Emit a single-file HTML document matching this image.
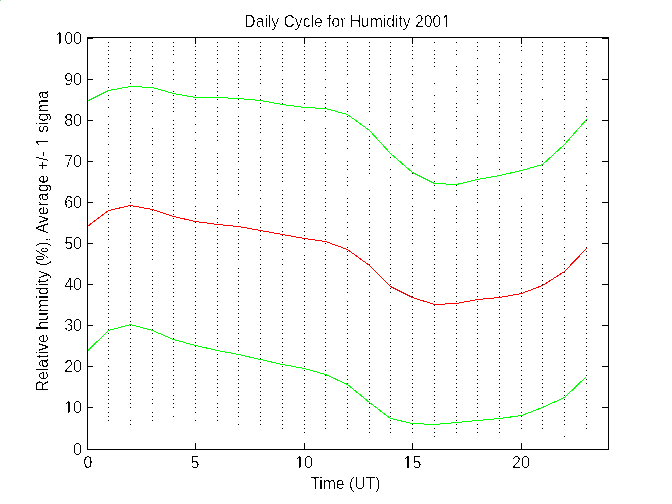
<!DOCTYPE html>
<html><head><meta charset="utf-8"><style>
html,body{margin:0;padding:0;background:#fff;}
svg{display:block;}
text{font-family:"Liberation Sans",Arial,sans-serif;font-size:16px;fill:#000;}
.n{font-family:"NanumGothic","Liberation Sans",sans-serif;stroke:none;}
</style></head><body>
<svg width="672" height="504" viewBox="0 0 672 504">
<rect width="672" height="504" fill="#fff"/>
<rect width="1" height="1" fill="#9ccc9c"/>
<path d="M108 420h1v1h-1zM108 416h1v1h-1zM108 412h1v1h-1zM108 407h1v1h-1zM108 403h1v1h-1zM108 399h1v1h-1zM108 395h1v1h-1zM108 391h1v1h-1zM108 387h1v1h-1zM108 383h1v1h-1zM108 379h1v1h-1zM108 375h1v1h-1zM108 370h1v1h-1zM108 366h1v1h-1zM108 358h1v1h-1zM108 354h1v1h-1zM108 350h1v1h-1zM108 346h1v1h-1zM108 342h1v1h-1zM108 338h1v1h-1zM108 333h1v1h-1zM108 329h1v1h-1zM108 325h1v1h-1zM108 321h1v1h-1zM108 317h1v1h-1zM108 313h1v1h-1zM108 309h1v1h-1zM108 305h1v1h-1zM108 301h1v1h-1zM108 296h1v1h-1zM108 292h1v1h-1zM108 288h1v1h-1zM108 284h1v1h-1zM108 280h1v1h-1zM108 276h1v1h-1zM108 272h1v1h-1zM108 268h1v1h-1zM108 264h1v1h-1zM108 259h1v1h-1zM108 255h1v1h-1zM108 251h1v1h-1zM108 247h1v1h-1zM108 239h1v1h-1zM108 235h1v1h-1zM108 231h1v1h-1zM108 227h1v1h-1zM108 222h1v1h-1zM108 218h1v1h-1zM108 214h1v1h-1zM108 210h1v1h-1zM108 206h1v1h-1zM108 202h1v1h-1zM108 198h1v1h-1zM108 194h1v1h-1zM108 185h1v1h-1zM108 181h1v1h-1zM108 177h1v1h-1zM108 173h1v1h-1zM108 165h1v1h-1zM108 161h1v1h-1zM108 157h1v1h-1zM108 153h1v1h-1zM108 144h1v1h-1zM108 136h1v1h-1zM108 132h1v1h-1zM108 128h1v1h-1zM108 124h1v1h-1zM108 116h1v1h-1zM108 107h1v1h-1zM108 99h1v1h-1zM108 95h1v1h-1zM108 87h1v1h-1zM108 79h1v1h-1zM108 74h1v1h-1zM108 70h1v1h-1zM108 66h1v1h-1zM108 62h1v1h-1zM108 58h1v1h-1zM108 54h1v1h-1zM108 50h1v1h-1zM108 46h1v1h-1zM108 42h1v1h-1zM130 424h1v1h-1zM130 420h1v1h-1zM130 407h1v1h-1zM130 403h1v1h-1zM130 399h1v1h-1zM130 395h1v1h-1zM130 391h1v1h-1zM130 387h1v1h-1zM130 383h1v1h-1zM130 379h1v1h-1zM130 375h1v1h-1zM130 370h1v1h-1zM130 366h1v1h-1zM130 362h1v1h-1zM130 358h1v1h-1zM130 354h1v1h-1zM130 350h1v1h-1zM130 346h1v1h-1zM130 342h1v1h-1zM130 338h1v1h-1zM130 333h1v1h-1zM130 329h1v1h-1zM130 325h1v1h-1zM130 321h1v1h-1zM130 317h1v1h-1zM130 313h1v1h-1zM130 309h1v1h-1zM130 305h1v1h-1zM130 301h1v1h-1zM130 296h1v1h-1zM130 292h1v1h-1zM130 288h1v1h-1zM130 284h1v1h-1zM130 280h1v1h-1zM130 276h1v1h-1zM130 272h1v1h-1zM130 268h1v1h-1zM130 264h1v1h-1zM130 259h1v1h-1zM130 255h1v1h-1zM130 251h1v1h-1zM130 247h1v1h-1zM130 243h1v1h-1zM130 239h1v1h-1zM130 235h1v1h-1zM130 231h1v1h-1zM130 227h1v1h-1zM130 222h1v1h-1zM130 218h1v1h-1zM130 214h1v1h-1zM130 210h1v1h-1zM130 206h1v1h-1zM130 202h1v1h-1zM130 198h1v1h-1zM130 190h1v1h-1zM130 185h1v1h-1zM130 181h1v1h-1zM130 173h1v1h-1zM130 169h1v1h-1zM130 165h1v1h-1zM130 161h1v1h-1zM130 157h1v1h-1zM130 153h1v1h-1zM130 148h1v1h-1zM130 144h1v1h-1zM130 140h1v1h-1zM130 136h1v1h-1zM130 132h1v1h-1zM130 128h1v1h-1zM130 124h1v1h-1zM130 120h1v1h-1zM130 116h1v1h-1zM130 111h1v1h-1zM130 107h1v1h-1zM130 103h1v1h-1zM130 99h1v1h-1zM130 91h1v1h-1zM130 83h1v1h-1zM130 79h1v1h-1zM130 74h1v1h-1zM130 70h1v1h-1zM130 66h1v1h-1zM130 62h1v1h-1zM130 58h1v1h-1zM130 50h1v1h-1zM130 46h1v1h-1zM130 42h1v1h-1zM152 420h1v1h-1zM152 416h1v1h-1zM152 412h1v1h-1zM152 403h1v1h-1zM152 399h1v1h-1zM152 391h1v1h-1zM152 387h1v1h-1zM152 383h1v1h-1zM152 379h1v1h-1zM152 375h1v1h-1zM152 370h1v1h-1zM152 366h1v1h-1zM152 362h1v1h-1zM152 358h1v1h-1zM152 354h1v1h-1zM152 350h1v1h-1zM152 346h1v1h-1zM152 342h1v1h-1zM152 338h1v1h-1zM152 333h1v1h-1zM152 329h1v1h-1zM152 325h1v1h-1zM152 321h1v1h-1zM152 317h1v1h-1zM152 313h1v1h-1zM152 309h1v1h-1zM152 305h1v1h-1zM152 301h1v1h-1zM152 296h1v1h-1zM152 292h1v1h-1zM152 288h1v1h-1zM152 284h1v1h-1zM152 280h1v1h-1zM152 276h1v1h-1zM152 272h1v1h-1zM152 259h1v1h-1zM152 255h1v1h-1zM152 251h1v1h-1zM152 247h1v1h-1zM152 243h1v1h-1zM152 239h1v1h-1zM152 235h1v1h-1zM152 231h1v1h-1zM152 227h1v1h-1zM152 222h1v1h-1zM152 218h1v1h-1zM152 214h1v1h-1zM152 210h1v1h-1zM152 206h1v1h-1zM152 202h1v1h-1zM152 198h1v1h-1zM152 194h1v1h-1zM152 190h1v1h-1zM152 185h1v1h-1zM152 181h1v1h-1zM152 177h1v1h-1zM152 173h1v1h-1zM152 165h1v1h-1zM152 161h1v1h-1zM152 157h1v1h-1zM152 153h1v1h-1zM152 144h1v1h-1zM152 140h1v1h-1zM152 136h1v1h-1zM152 132h1v1h-1zM152 128h1v1h-1zM152 116h1v1h-1zM152 111h1v1h-1zM152 103h1v1h-1zM152 95h1v1h-1zM152 91h1v1h-1zM152 83h1v1h-1zM152 79h1v1h-1zM152 74h1v1h-1zM152 70h1v1h-1zM152 66h1v1h-1zM152 58h1v1h-1zM152 54h1v1h-1zM152 50h1v1h-1zM152 46h1v1h-1zM152 42h1v1h-1zM173 416h1v1h-1zM173 407h1v1h-1zM173 403h1v1h-1zM173 399h1v1h-1zM173 395h1v1h-1zM173 387h1v1h-1zM173 383h1v1h-1zM173 379h1v1h-1zM173 375h1v1h-1zM173 370h1v1h-1zM173 366h1v1h-1zM173 362h1v1h-1zM173 358h1v1h-1zM173 354h1v1h-1zM173 350h1v1h-1zM173 346h1v1h-1zM173 342h1v1h-1zM173 338h1v1h-1zM173 333h1v1h-1zM173 329h1v1h-1zM173 325h1v1h-1zM173 321h1v1h-1zM173 317h1v1h-1zM173 313h1v1h-1zM173 309h1v1h-1zM173 305h1v1h-1zM173 301h1v1h-1zM173 296h1v1h-1zM173 292h1v1h-1zM173 288h1v1h-1zM173 284h1v1h-1zM173 280h1v1h-1zM173 276h1v1h-1zM173 272h1v1h-1zM173 268h1v1h-1zM173 264h1v1h-1zM173 259h1v1h-1zM173 255h1v1h-1zM173 251h1v1h-1zM173 247h1v1h-1zM173 243h1v1h-1zM173 239h1v1h-1zM173 235h1v1h-1zM173 231h1v1h-1zM173 227h1v1h-1zM173 222h1v1h-1zM173 218h1v1h-1zM173 214h1v1h-1zM173 210h1v1h-1zM173 206h1v1h-1zM173 202h1v1h-1zM173 198h1v1h-1zM173 194h1v1h-1zM173 190h1v1h-1zM173 185h1v1h-1zM173 181h1v1h-1zM173 177h1v1h-1zM173 173h1v1h-1zM173 169h1v1h-1zM173 165h1v1h-1zM173 161h1v1h-1zM173 157h1v1h-1zM173 153h1v1h-1zM173 148h1v1h-1zM173 144h1v1h-1zM173 140h1v1h-1zM173 136h1v1h-1zM173 132h1v1h-1zM173 128h1v1h-1zM173 124h1v1h-1zM173 120h1v1h-1zM173 111h1v1h-1zM173 107h1v1h-1zM173 103h1v1h-1zM173 99h1v1h-1zM173 95h1v1h-1zM173 91h1v1h-1zM173 79h1v1h-1zM173 74h1v1h-1zM173 70h1v1h-1zM173 62h1v1h-1zM173 54h1v1h-1zM173 50h1v1h-1zM173 46h1v1h-1zM173 42h1v1h-1zM195 420h1v1h-1zM195 412h1v1h-1zM195 407h1v1h-1zM195 403h1v1h-1zM195 399h1v1h-1zM195 395h1v1h-1zM195 391h1v1h-1zM195 387h1v1h-1zM195 383h1v1h-1zM195 379h1v1h-1zM195 375h1v1h-1zM195 370h1v1h-1zM195 366h1v1h-1zM195 362h1v1h-1zM195 358h1v1h-1zM195 354h1v1h-1zM195 350h1v1h-1zM195 346h1v1h-1zM195 342h1v1h-1zM195 338h1v1h-1zM195 333h1v1h-1zM195 329h1v1h-1zM195 325h1v1h-1zM195 321h1v1h-1zM195 317h1v1h-1zM195 313h1v1h-1zM195 309h1v1h-1zM195 305h1v1h-1zM195 301h1v1h-1zM195 296h1v1h-1zM195 292h1v1h-1zM195 288h1v1h-1zM195 284h1v1h-1zM195 280h1v1h-1zM195 276h1v1h-1zM195 272h1v1h-1zM195 268h1v1h-1zM195 264h1v1h-1zM195 259h1v1h-1zM195 255h1v1h-1zM195 251h1v1h-1zM195 247h1v1h-1zM195 243h1v1h-1zM195 239h1v1h-1zM195 235h1v1h-1zM195 231h1v1h-1zM195 227h1v1h-1zM195 222h1v1h-1zM195 218h1v1h-1zM195 214h1v1h-1zM195 210h1v1h-1zM195 206h1v1h-1zM195 198h1v1h-1zM195 194h1v1h-1zM195 190h1v1h-1zM195 185h1v1h-1zM195 181h1v1h-1zM195 177h1v1h-1zM195 173h1v1h-1zM195 169h1v1h-1zM195 165h1v1h-1zM195 161h1v1h-1zM195 157h1v1h-1zM195 153h1v1h-1zM195 148h1v1h-1zM195 140h1v1h-1zM195 132h1v1h-1zM195 124h1v1h-1zM195 116h1v1h-1zM195 111h1v1h-1zM195 107h1v1h-1zM195 103h1v1h-1zM195 99h1v1h-1zM195 95h1v1h-1zM195 87h1v1h-1zM195 83h1v1h-1zM195 79h1v1h-1zM195 74h1v1h-1zM195 70h1v1h-1zM195 66h1v1h-1zM195 62h1v1h-1zM195 58h1v1h-1zM195 54h1v1h-1zM195 50h1v1h-1zM195 46h1v1h-1zM195 42h1v1h-1zM217 420h1v1h-1zM217 416h1v1h-1zM217 412h1v1h-1zM217 407h1v1h-1zM217 403h1v1h-1zM217 395h1v1h-1zM217 391h1v1h-1zM217 387h1v1h-1zM217 383h1v1h-1zM217 379h1v1h-1zM217 375h1v1h-1zM217 370h1v1h-1zM217 366h1v1h-1zM217 362h1v1h-1zM217 358h1v1h-1zM217 354h1v1h-1zM217 350h1v1h-1zM217 346h1v1h-1zM217 342h1v1h-1zM217 338h1v1h-1zM217 333h1v1h-1zM217 329h1v1h-1zM217 325h1v1h-1zM217 321h1v1h-1zM217 317h1v1h-1zM217 313h1v1h-1zM217 309h1v1h-1zM217 305h1v1h-1zM217 301h1v1h-1zM217 296h1v1h-1zM217 292h1v1h-1zM217 288h1v1h-1zM217 284h1v1h-1zM217 280h1v1h-1zM217 276h1v1h-1zM217 272h1v1h-1zM217 268h1v1h-1zM217 264h1v1h-1zM217 259h1v1h-1zM217 255h1v1h-1zM217 251h1v1h-1zM217 247h1v1h-1zM217 243h1v1h-1zM217 239h1v1h-1zM217 235h1v1h-1zM217 231h1v1h-1zM217 227h1v1h-1zM217 222h1v1h-1zM217 218h1v1h-1zM217 210h1v1h-1zM217 206h1v1h-1zM217 198h1v1h-1zM217 194h1v1h-1zM217 190h1v1h-1zM217 185h1v1h-1zM217 181h1v1h-1zM217 173h1v1h-1zM217 169h1v1h-1zM217 165h1v1h-1zM217 161h1v1h-1zM217 157h1v1h-1zM217 153h1v1h-1zM217 140h1v1h-1zM217 136h1v1h-1zM217 132h1v1h-1zM217 124h1v1h-1zM217 120h1v1h-1zM217 116h1v1h-1zM217 111h1v1h-1zM217 107h1v1h-1zM217 99h1v1h-1zM217 95h1v1h-1zM217 91h1v1h-1zM217 87h1v1h-1zM217 83h1v1h-1zM217 79h1v1h-1zM217 74h1v1h-1zM217 70h1v1h-1zM217 62h1v1h-1zM217 58h1v1h-1zM217 54h1v1h-1zM217 50h1v1h-1zM217 46h1v1h-1zM217 42h1v1h-1zM238 424h1v1h-1zM238 416h1v1h-1zM238 412h1v1h-1zM238 407h1v1h-1zM238 403h1v1h-1zM238 399h1v1h-1zM238 395h1v1h-1zM238 391h1v1h-1zM238 387h1v1h-1zM238 383h1v1h-1zM238 379h1v1h-1zM238 375h1v1h-1zM238 370h1v1h-1zM238 366h1v1h-1zM238 362h1v1h-1zM238 358h1v1h-1zM238 354h1v1h-1zM238 350h1v1h-1zM238 346h1v1h-1zM238 342h1v1h-1zM238 338h1v1h-1zM238 333h1v1h-1zM238 329h1v1h-1zM238 325h1v1h-1zM238 321h1v1h-1zM238 317h1v1h-1zM238 313h1v1h-1zM238 309h1v1h-1zM238 305h1v1h-1zM238 301h1v1h-1zM238 296h1v1h-1zM238 292h1v1h-1zM238 288h1v1h-1zM238 284h1v1h-1zM238 280h1v1h-1zM238 276h1v1h-1zM238 272h1v1h-1zM238 268h1v1h-1zM238 259h1v1h-1zM238 255h1v1h-1zM238 251h1v1h-1zM238 247h1v1h-1zM238 243h1v1h-1zM238 239h1v1h-1zM238 235h1v1h-1zM238 231h1v1h-1zM238 222h1v1h-1zM238 218h1v1h-1zM238 214h1v1h-1zM238 210h1v1h-1zM238 194h1v1h-1zM238 190h1v1h-1zM238 185h1v1h-1zM238 181h1v1h-1zM238 177h1v1h-1zM238 173h1v1h-1zM238 169h1v1h-1zM238 161h1v1h-1zM238 157h1v1h-1zM238 153h1v1h-1zM238 148h1v1h-1zM238 144h1v1h-1zM238 140h1v1h-1zM238 136h1v1h-1zM238 132h1v1h-1zM238 128h1v1h-1zM238 124h1v1h-1zM238 120h1v1h-1zM238 116h1v1h-1zM238 107h1v1h-1zM238 103h1v1h-1zM238 99h1v1h-1zM238 95h1v1h-1zM238 87h1v1h-1zM238 83h1v1h-1zM238 79h1v1h-1zM238 74h1v1h-1zM238 70h1v1h-1zM238 66h1v1h-1zM238 62h1v1h-1zM238 58h1v1h-1zM238 54h1v1h-1zM238 50h1v1h-1zM238 46h1v1h-1zM238 42h1v1h-1zM260 424h1v1h-1zM260 420h1v1h-1zM260 416h1v1h-1zM260 412h1v1h-1zM260 407h1v1h-1zM260 403h1v1h-1zM260 399h1v1h-1zM260 395h1v1h-1zM260 391h1v1h-1zM260 387h1v1h-1zM260 383h1v1h-1zM260 379h1v1h-1zM260 375h1v1h-1zM260 370h1v1h-1zM260 366h1v1h-1zM260 362h1v1h-1zM260 358h1v1h-1zM260 354h1v1h-1zM260 350h1v1h-1zM260 346h1v1h-1zM260 342h1v1h-1zM260 338h1v1h-1zM260 333h1v1h-1zM260 329h1v1h-1zM260 325h1v1h-1zM260 321h1v1h-1zM260 317h1v1h-1zM260 313h1v1h-1zM260 309h1v1h-1zM260 305h1v1h-1zM260 301h1v1h-1zM260 296h1v1h-1zM260 292h1v1h-1zM260 288h1v1h-1zM260 284h1v1h-1zM260 280h1v1h-1zM260 276h1v1h-1zM260 272h1v1h-1zM260 268h1v1h-1zM260 264h1v1h-1zM260 259h1v1h-1zM260 255h1v1h-1zM260 251h1v1h-1zM260 247h1v1h-1zM260 239h1v1h-1zM260 235h1v1h-1zM260 231h1v1h-1zM260 227h1v1h-1zM260 222h1v1h-1zM260 218h1v1h-1zM260 214h1v1h-1zM260 210h1v1h-1zM260 206h1v1h-1zM260 198h1v1h-1zM260 190h1v1h-1zM260 185h1v1h-1zM260 181h1v1h-1zM260 177h1v1h-1zM260 173h1v1h-1zM260 169h1v1h-1zM260 165h1v1h-1zM260 161h1v1h-1zM260 157h1v1h-1zM260 148h1v1h-1zM260 144h1v1h-1zM260 140h1v1h-1zM260 132h1v1h-1zM260 128h1v1h-1zM260 124h1v1h-1zM260 120h1v1h-1zM260 116h1v1h-1zM260 107h1v1h-1zM260 103h1v1h-1zM260 99h1v1h-1zM260 95h1v1h-1zM260 83h1v1h-1zM260 79h1v1h-1zM260 74h1v1h-1zM260 70h1v1h-1zM260 66h1v1h-1zM260 58h1v1h-1zM260 54h1v1h-1zM260 50h1v1h-1zM260 46h1v1h-1zM260 42h1v1h-1zM282 428h1v1h-1zM282 424h1v1h-1zM282 420h1v1h-1zM282 416h1v1h-1zM282 412h1v1h-1zM282 407h1v1h-1zM282 403h1v1h-1zM282 399h1v1h-1zM282 395h1v1h-1zM282 391h1v1h-1zM282 387h1v1h-1zM282 383h1v1h-1zM282 379h1v1h-1zM282 375h1v1h-1zM282 370h1v1h-1zM282 366h1v1h-1zM282 362h1v1h-1zM282 358h1v1h-1zM282 354h1v1h-1zM282 350h1v1h-1zM282 346h1v1h-1zM282 342h1v1h-1zM282 338h1v1h-1zM282 333h1v1h-1zM282 329h1v1h-1zM282 325h1v1h-1zM282 321h1v1h-1zM282 317h1v1h-1zM282 313h1v1h-1zM282 309h1v1h-1zM282 305h1v1h-1zM282 301h1v1h-1zM282 296h1v1h-1zM282 292h1v1h-1zM282 288h1v1h-1zM282 284h1v1h-1zM282 280h1v1h-1zM282 276h1v1h-1zM282 272h1v1h-1zM282 264h1v1h-1zM282 259h1v1h-1zM282 251h1v1h-1zM282 247h1v1h-1zM282 243h1v1h-1zM282 239h1v1h-1zM282 235h1v1h-1zM282 231h1v1h-1zM282 227h1v1h-1zM282 222h1v1h-1zM282 218h1v1h-1zM282 214h1v1h-1zM282 210h1v1h-1zM282 206h1v1h-1zM282 202h1v1h-1zM282 198h1v1h-1zM282 194h1v1h-1zM282 190h1v1h-1zM282 181h1v1h-1zM282 177h1v1h-1zM282 173h1v1h-1zM282 169h1v1h-1zM282 165h1v1h-1zM282 161h1v1h-1zM282 157h1v1h-1zM282 153h1v1h-1zM282 148h1v1h-1zM282 144h1v1h-1zM282 140h1v1h-1zM282 136h1v1h-1zM282 132h1v1h-1zM282 128h1v1h-1zM282 124h1v1h-1zM282 116h1v1h-1zM282 111h1v1h-1zM282 103h1v1h-1zM282 99h1v1h-1zM282 95h1v1h-1zM282 91h1v1h-1zM282 87h1v1h-1zM282 83h1v1h-1zM282 79h1v1h-1zM282 70h1v1h-1zM282 66h1v1h-1zM282 62h1v1h-1zM282 58h1v1h-1zM282 54h1v1h-1zM282 50h1v1h-1zM282 46h1v1h-1zM282 42h1v1h-1zM304 432h1v1h-1zM304 428h1v1h-1zM304 424h1v1h-1zM304 420h1v1h-1zM304 416h1v1h-1zM304 412h1v1h-1zM304 407h1v1h-1zM304 403h1v1h-1zM304 399h1v1h-1zM304 395h1v1h-1zM304 391h1v1h-1zM304 387h1v1h-1zM304 383h1v1h-1zM304 379h1v1h-1zM304 375h1v1h-1zM304 370h1v1h-1zM304 366h1v1h-1zM304 362h1v1h-1zM304 358h1v1h-1zM304 354h1v1h-1zM304 350h1v1h-1zM304 346h1v1h-1zM304 342h1v1h-1zM304 338h1v1h-1zM304 333h1v1h-1zM304 329h1v1h-1zM304 325h1v1h-1zM304 321h1v1h-1zM304 317h1v1h-1zM304 313h1v1h-1zM304 309h1v1h-1zM304 305h1v1h-1zM304 301h1v1h-1zM304 296h1v1h-1zM304 292h1v1h-1zM304 288h1v1h-1zM304 284h1v1h-1zM304 280h1v1h-1zM304 276h1v1h-1zM304 272h1v1h-1zM304 268h1v1h-1zM304 264h1v1h-1zM304 259h1v1h-1zM304 255h1v1h-1zM304 247h1v1h-1zM304 243h1v1h-1zM304 239h1v1h-1zM304 235h1v1h-1zM304 231h1v1h-1zM304 227h1v1h-1zM304 222h1v1h-1zM304 218h1v1h-1zM304 214h1v1h-1zM304 210h1v1h-1zM304 206h1v1h-1zM304 202h1v1h-1zM304 198h1v1h-1zM304 194h1v1h-1zM304 190h1v1h-1zM304 185h1v1h-1zM304 181h1v1h-1zM304 177h1v1h-1zM304 173h1v1h-1zM304 169h1v1h-1zM304 165h1v1h-1zM304 161h1v1h-1zM304 157h1v1h-1zM304 153h1v1h-1zM304 148h1v1h-1zM304 144h1v1h-1zM304 140h1v1h-1zM304 136h1v1h-1zM304 132h1v1h-1zM304 120h1v1h-1zM304 111h1v1h-1zM304 107h1v1h-1zM304 103h1v1h-1zM304 99h1v1h-1zM304 95h1v1h-1zM304 91h1v1h-1zM304 87h1v1h-1zM304 83h1v1h-1zM304 79h1v1h-1zM304 74h1v1h-1zM304 70h1v1h-1zM304 66h1v1h-1zM304 62h1v1h-1zM304 58h1v1h-1zM304 54h1v1h-1zM304 50h1v1h-1zM304 46h1v1h-1zM304 42h1v1h-1zM325 428h1v1h-1zM325 424h1v1h-1zM325 420h1v1h-1zM325 416h1v1h-1zM325 412h1v1h-1zM325 407h1v1h-1zM325 403h1v1h-1zM325 399h1v1h-1zM325 395h1v1h-1zM325 391h1v1h-1zM325 387h1v1h-1zM325 383h1v1h-1zM325 379h1v1h-1zM325 375h1v1h-1zM325 370h1v1h-1zM325 366h1v1h-1zM325 362h1v1h-1zM325 358h1v1h-1zM325 354h1v1h-1zM325 350h1v1h-1zM325 346h1v1h-1zM325 342h1v1h-1zM325 338h1v1h-1zM325 333h1v1h-1zM325 329h1v1h-1zM325 325h1v1h-1zM325 321h1v1h-1zM325 317h1v1h-1zM325 313h1v1h-1zM325 309h1v1h-1zM325 305h1v1h-1zM325 301h1v1h-1zM325 296h1v1h-1zM325 292h1v1h-1zM325 288h1v1h-1zM325 284h1v1h-1zM325 280h1v1h-1zM325 276h1v1h-1zM325 272h1v1h-1zM325 268h1v1h-1zM325 264h1v1h-1zM325 259h1v1h-1zM325 255h1v1h-1zM325 251h1v1h-1zM325 243h1v1h-1zM325 239h1v1h-1zM325 235h1v1h-1zM325 231h1v1h-1zM325 227h1v1h-1zM325 222h1v1h-1zM325 218h1v1h-1zM325 210h1v1h-1zM325 206h1v1h-1zM325 202h1v1h-1zM325 198h1v1h-1zM325 190h1v1h-1zM325 185h1v1h-1zM325 181h1v1h-1zM325 177h1v1h-1zM325 173h1v1h-1zM325 169h1v1h-1zM325 165h1v1h-1zM325 161h1v1h-1zM325 153h1v1h-1zM325 148h1v1h-1zM325 144h1v1h-1zM325 140h1v1h-1zM325 136h1v1h-1zM325 132h1v1h-1zM325 128h1v1h-1zM325 116h1v1h-1zM325 111h1v1h-1zM325 107h1v1h-1zM325 103h1v1h-1zM325 99h1v1h-1zM325 95h1v1h-1zM325 87h1v1h-1zM325 79h1v1h-1zM325 70h1v1h-1zM325 66h1v1h-1zM325 62h1v1h-1zM325 58h1v1h-1zM325 54h1v1h-1zM325 50h1v1h-1zM325 46h1v1h-1zM325 42h1v1h-1zM347 428h1v1h-1zM347 424h1v1h-1zM347 420h1v1h-1zM347 416h1v1h-1zM347 412h1v1h-1zM347 407h1v1h-1zM347 403h1v1h-1zM347 399h1v1h-1zM347 395h1v1h-1zM347 391h1v1h-1zM347 387h1v1h-1zM347 383h1v1h-1zM347 379h1v1h-1zM347 375h1v1h-1zM347 370h1v1h-1zM347 366h1v1h-1zM347 362h1v1h-1zM347 358h1v1h-1zM347 354h1v1h-1zM347 350h1v1h-1zM347 346h1v1h-1zM347 342h1v1h-1zM347 338h1v1h-1zM347 333h1v1h-1zM347 329h1v1h-1zM347 325h1v1h-1zM347 321h1v1h-1zM347 317h1v1h-1zM347 313h1v1h-1zM347 309h1v1h-1zM347 305h1v1h-1zM347 301h1v1h-1zM347 292h1v1h-1zM347 288h1v1h-1zM347 284h1v1h-1zM347 280h1v1h-1zM347 276h1v1h-1zM347 272h1v1h-1zM347 268h1v1h-1zM347 264h1v1h-1zM347 259h1v1h-1zM347 255h1v1h-1zM347 251h1v1h-1zM347 247h1v1h-1zM347 239h1v1h-1zM347 235h1v1h-1zM347 227h1v1h-1zM347 222h1v1h-1zM347 214h1v1h-1zM347 210h1v1h-1zM347 206h1v1h-1zM347 202h1v1h-1zM347 198h1v1h-1zM347 185h1v1h-1zM347 181h1v1h-1zM347 177h1v1h-1zM347 169h1v1h-1zM347 165h1v1h-1zM347 161h1v1h-1zM347 148h1v1h-1zM347 140h1v1h-1zM347 136h1v1h-1zM347 132h1v1h-1zM347 128h1v1h-1zM347 124h1v1h-1zM347 120h1v1h-1zM347 116h1v1h-1zM347 111h1v1h-1zM347 99h1v1h-1zM347 95h1v1h-1zM347 91h1v1h-1zM347 87h1v1h-1zM347 83h1v1h-1zM347 74h1v1h-1zM347 70h1v1h-1zM347 66h1v1h-1zM347 62h1v1h-1zM347 58h1v1h-1zM347 54h1v1h-1zM347 50h1v1h-1zM347 46h1v1h-1zM347 42h1v1h-1zM369 432h1v1h-1zM369 428h1v1h-1zM369 424h1v1h-1zM369 420h1v1h-1zM369 416h1v1h-1zM369 412h1v1h-1zM369 407h1v1h-1zM369 403h1v1h-1zM369 399h1v1h-1zM369 395h1v1h-1zM369 391h1v1h-1zM369 387h1v1h-1zM369 383h1v1h-1zM369 379h1v1h-1zM369 375h1v1h-1zM369 370h1v1h-1zM369 366h1v1h-1zM369 362h1v1h-1zM369 358h1v1h-1zM369 354h1v1h-1zM369 350h1v1h-1zM369 346h1v1h-1zM369 342h1v1h-1zM369 338h1v1h-1zM369 333h1v1h-1zM369 329h1v1h-1zM369 325h1v1h-1zM369 321h1v1h-1zM369 317h1v1h-1zM369 313h1v1h-1zM369 309h1v1h-1zM369 305h1v1h-1zM369 301h1v1h-1zM369 296h1v1h-1zM369 292h1v1h-1zM369 284h1v1h-1zM369 280h1v1h-1zM369 276h1v1h-1zM369 272h1v1h-1zM369 264h1v1h-1zM369 259h1v1h-1zM369 255h1v1h-1zM369 251h1v1h-1zM369 247h1v1h-1zM369 243h1v1h-1zM369 239h1v1h-1zM369 235h1v1h-1zM369 231h1v1h-1zM369 227h1v1h-1zM369 222h1v1h-1zM369 214h1v1h-1zM369 210h1v1h-1zM369 206h1v1h-1zM369 202h1v1h-1zM369 198h1v1h-1zM369 190h1v1h-1zM369 173h1v1h-1zM369 169h1v1h-1zM369 165h1v1h-1zM369 157h1v1h-1zM369 153h1v1h-1zM369 148h1v1h-1zM369 144h1v1h-1zM369 140h1v1h-1zM369 136h1v1h-1zM369 124h1v1h-1zM369 111h1v1h-1zM369 107h1v1h-1zM369 103h1v1h-1zM369 95h1v1h-1zM369 91h1v1h-1zM369 87h1v1h-1zM369 83h1v1h-1zM369 74h1v1h-1zM369 70h1v1h-1zM369 66h1v1h-1zM369 62h1v1h-1zM369 58h1v1h-1zM369 54h1v1h-1zM369 50h1v1h-1zM369 46h1v1h-1zM369 42h1v1h-1zM390 432h1v1h-1zM390 428h1v1h-1zM390 424h1v1h-1zM390 420h1v1h-1zM390 416h1v1h-1zM390 412h1v1h-1zM390 407h1v1h-1zM390 403h1v1h-1zM390 399h1v1h-1zM390 395h1v1h-1zM390 391h1v1h-1zM390 387h1v1h-1zM390 383h1v1h-1zM390 379h1v1h-1zM390 375h1v1h-1zM390 370h1v1h-1zM390 366h1v1h-1zM390 362h1v1h-1zM390 358h1v1h-1zM390 354h1v1h-1zM390 350h1v1h-1zM390 346h1v1h-1zM390 342h1v1h-1zM390 338h1v1h-1zM390 333h1v1h-1zM390 329h1v1h-1zM390 325h1v1h-1zM390 321h1v1h-1zM390 317h1v1h-1zM390 313h1v1h-1zM390 309h1v1h-1zM390 305h1v1h-1zM390 292h1v1h-1zM390 288h1v1h-1zM390 284h1v1h-1zM390 280h1v1h-1zM390 276h1v1h-1zM390 272h1v1h-1zM390 268h1v1h-1zM390 264h1v1h-1zM390 259h1v1h-1zM390 255h1v1h-1zM390 251h1v1h-1zM390 247h1v1h-1zM390 243h1v1h-1zM390 239h1v1h-1zM390 235h1v1h-1zM390 231h1v1h-1zM390 227h1v1h-1zM390 222h1v1h-1zM390 218h1v1h-1zM390 214h1v1h-1zM390 210h1v1h-1zM390 206h1v1h-1zM390 202h1v1h-1zM390 198h1v1h-1zM390 194h1v1h-1zM390 190h1v1h-1zM390 185h1v1h-1zM390 177h1v1h-1zM390 169h1v1h-1zM390 157h1v1h-1zM390 153h1v1h-1zM390 144h1v1h-1zM390 136h1v1h-1zM390 132h1v1h-1zM390 128h1v1h-1zM390 124h1v1h-1zM390 116h1v1h-1zM390 111h1v1h-1zM390 107h1v1h-1zM390 103h1v1h-1zM390 99h1v1h-1zM390 91h1v1h-1zM390 87h1v1h-1zM390 83h1v1h-1zM390 79h1v1h-1zM390 74h1v1h-1zM390 66h1v1h-1zM390 62h1v1h-1zM390 58h1v1h-1zM390 54h1v1h-1zM390 50h1v1h-1zM390 46h1v1h-1zM390 42h1v1h-1zM412 432h1v1h-1zM412 428h1v1h-1zM412 424h1v1h-1zM412 420h1v1h-1zM412 416h1v1h-1zM412 412h1v1h-1zM412 407h1v1h-1zM412 403h1v1h-1zM412 399h1v1h-1zM412 395h1v1h-1zM412 391h1v1h-1zM412 387h1v1h-1zM412 383h1v1h-1zM412 379h1v1h-1zM412 375h1v1h-1zM412 370h1v1h-1zM412 366h1v1h-1zM412 362h1v1h-1zM412 358h1v1h-1zM412 354h1v1h-1zM412 350h1v1h-1zM412 346h1v1h-1zM412 342h1v1h-1zM412 338h1v1h-1zM412 333h1v1h-1zM412 329h1v1h-1zM412 325h1v1h-1zM412 321h1v1h-1zM412 317h1v1h-1zM412 313h1v1h-1zM412 309h1v1h-1zM412 305h1v1h-1zM412 301h1v1h-1zM412 296h1v1h-1zM412 292h1v1h-1zM412 288h1v1h-1zM412 284h1v1h-1zM412 280h1v1h-1zM412 276h1v1h-1zM412 272h1v1h-1zM412 268h1v1h-1zM412 264h1v1h-1zM412 259h1v1h-1zM412 255h1v1h-1zM412 251h1v1h-1zM412 243h1v1h-1zM412 239h1v1h-1zM412 235h1v1h-1zM412 231h1v1h-1zM412 227h1v1h-1zM412 222h1v1h-1zM412 218h1v1h-1zM412 214h1v1h-1zM412 210h1v1h-1zM412 206h1v1h-1zM412 198h1v1h-1zM412 194h1v1h-1zM412 190h1v1h-1zM412 185h1v1h-1zM412 181h1v1h-1zM412 173h1v1h-1zM412 165h1v1h-1zM412 157h1v1h-1zM412 153h1v1h-1zM412 148h1v1h-1zM412 144h1v1h-1zM412 128h1v1h-1zM412 124h1v1h-1zM412 116h1v1h-1zM412 107h1v1h-1zM412 99h1v1h-1zM412 95h1v1h-1zM412 91h1v1h-1zM412 87h1v1h-1zM412 83h1v1h-1zM412 74h1v1h-1zM412 70h1v1h-1zM412 66h1v1h-1zM412 58h1v1h-1zM412 54h1v1h-1zM412 50h1v1h-1zM412 46h1v1h-1zM412 42h1v1h-1zM434 436h1v1h-1zM434 432h1v1h-1zM434 428h1v1h-1zM434 424h1v1h-1zM434 420h1v1h-1zM434 416h1v1h-1zM434 412h1v1h-1zM434 407h1v1h-1zM434 403h1v1h-1zM434 399h1v1h-1zM434 395h1v1h-1zM434 391h1v1h-1zM434 387h1v1h-1zM434 383h1v1h-1zM434 379h1v1h-1zM434 375h1v1h-1zM434 370h1v1h-1zM434 366h1v1h-1zM434 362h1v1h-1zM434 358h1v1h-1zM434 354h1v1h-1zM434 350h1v1h-1zM434 346h1v1h-1zM434 342h1v1h-1zM434 338h1v1h-1zM434 333h1v1h-1zM434 329h1v1h-1zM434 325h1v1h-1zM434 321h1v1h-1zM434 317h1v1h-1zM434 313h1v1h-1zM434 309h1v1h-1zM434 305h1v1h-1zM434 301h1v1h-1zM434 296h1v1h-1zM434 292h1v1h-1zM434 288h1v1h-1zM434 284h1v1h-1zM434 280h1v1h-1zM434 276h1v1h-1zM434 272h1v1h-1zM434 268h1v1h-1zM434 264h1v1h-1zM434 259h1v1h-1zM434 255h1v1h-1zM434 251h1v1h-1zM434 247h1v1h-1zM434 243h1v1h-1zM434 239h1v1h-1zM434 235h1v1h-1zM434 231h1v1h-1zM434 227h1v1h-1zM434 222h1v1h-1zM434 218h1v1h-1zM434 210h1v1h-1zM434 198h1v1h-1zM434 194h1v1h-1zM434 190h1v1h-1zM434 185h1v1h-1zM434 181h1v1h-1zM434 173h1v1h-1zM434 165h1v1h-1zM434 157h1v1h-1zM434 153h1v1h-1zM434 144h1v1h-1zM434 140h1v1h-1zM434 132h1v1h-1zM434 128h1v1h-1zM434 124h1v1h-1zM434 111h1v1h-1zM434 107h1v1h-1zM434 103h1v1h-1zM434 95h1v1h-1zM434 83h1v1h-1zM434 66h1v1h-1zM434 62h1v1h-1zM434 58h1v1h-1zM434 54h1v1h-1zM434 50h1v1h-1zM434 42h1v1h-1zM456 432h1v1h-1zM456 428h1v1h-1zM456 424h1v1h-1zM456 420h1v1h-1zM456 416h1v1h-1zM456 412h1v1h-1zM456 407h1v1h-1zM456 403h1v1h-1zM456 399h1v1h-1zM456 395h1v1h-1zM456 391h1v1h-1zM456 387h1v1h-1zM456 383h1v1h-1zM456 379h1v1h-1zM456 375h1v1h-1zM456 370h1v1h-1zM456 366h1v1h-1zM456 362h1v1h-1zM456 358h1v1h-1zM456 354h1v1h-1zM456 350h1v1h-1zM456 346h1v1h-1zM456 342h1v1h-1zM456 338h1v1h-1zM456 333h1v1h-1zM456 329h1v1h-1zM456 325h1v1h-1zM456 321h1v1h-1zM456 317h1v1h-1zM456 313h1v1h-1zM456 309h1v1h-1zM456 305h1v1h-1zM456 301h1v1h-1zM456 296h1v1h-1zM456 292h1v1h-1zM456 288h1v1h-1zM456 284h1v1h-1zM456 280h1v1h-1zM456 276h1v1h-1zM456 272h1v1h-1zM456 268h1v1h-1zM456 264h1v1h-1zM456 259h1v1h-1zM456 255h1v1h-1zM456 247h1v1h-1zM456 243h1v1h-1zM456 239h1v1h-1zM456 235h1v1h-1zM456 231h1v1h-1zM456 222h1v1h-1zM456 218h1v1h-1zM456 214h1v1h-1zM456 210h1v1h-1zM456 206h1v1h-1zM456 194h1v1h-1zM456 190h1v1h-1zM456 185h1v1h-1zM456 177h1v1h-1zM456 169h1v1h-1zM456 161h1v1h-1zM456 157h1v1h-1zM456 144h1v1h-1zM456 140h1v1h-1zM456 128h1v1h-1zM456 120h1v1h-1zM456 116h1v1h-1zM456 111h1v1h-1zM456 107h1v1h-1zM456 103h1v1h-1zM456 91h1v1h-1zM456 87h1v1h-1zM456 74h1v1h-1zM456 70h1v1h-1zM456 66h1v1h-1zM456 54h1v1h-1zM456 50h1v1h-1zM456 42h1v1h-1zM477 432h1v1h-1zM477 428h1v1h-1zM477 424h1v1h-1zM477 420h1v1h-1zM477 416h1v1h-1zM477 412h1v1h-1zM477 407h1v1h-1zM477 403h1v1h-1zM477 399h1v1h-1zM477 395h1v1h-1zM477 391h1v1h-1zM477 387h1v1h-1zM477 383h1v1h-1zM477 379h1v1h-1zM477 375h1v1h-1zM477 370h1v1h-1zM477 366h1v1h-1zM477 362h1v1h-1zM477 358h1v1h-1zM477 354h1v1h-1zM477 350h1v1h-1zM477 346h1v1h-1zM477 342h1v1h-1zM477 338h1v1h-1zM477 333h1v1h-1zM477 329h1v1h-1zM477 325h1v1h-1zM477 321h1v1h-1zM477 317h1v1h-1zM477 313h1v1h-1zM477 309h1v1h-1zM477 305h1v1h-1zM477 301h1v1h-1zM477 296h1v1h-1zM477 292h1v1h-1zM477 288h1v1h-1zM477 284h1v1h-1zM477 280h1v1h-1zM477 276h1v1h-1zM477 272h1v1h-1zM477 268h1v1h-1zM477 264h1v1h-1zM477 259h1v1h-1zM477 255h1v1h-1zM477 247h1v1h-1zM477 243h1v1h-1zM477 239h1v1h-1zM477 235h1v1h-1zM477 231h1v1h-1zM477 227h1v1h-1zM477 222h1v1h-1zM477 218h1v1h-1zM477 214h1v1h-1zM477 210h1v1h-1zM477 202h1v1h-1zM477 198h1v1h-1zM477 194h1v1h-1zM477 190h1v1h-1zM477 185h1v1h-1zM477 181h1v1h-1zM477 177h1v1h-1zM477 173h1v1h-1zM477 169h1v1h-1zM477 165h1v1h-1zM477 157h1v1h-1zM477 144h1v1h-1zM477 136h1v1h-1zM477 132h1v1h-1zM477 128h1v1h-1zM477 124h1v1h-1zM477 120h1v1h-1zM477 116h1v1h-1zM477 103h1v1h-1zM477 99h1v1h-1zM477 95h1v1h-1zM477 91h1v1h-1zM477 83h1v1h-1zM477 79h1v1h-1zM477 74h1v1h-1zM477 70h1v1h-1zM477 66h1v1h-1zM477 58h1v1h-1zM477 50h1v1h-1zM477 46h1v1h-1zM477 42h1v1h-1zM499 432h1v1h-1zM499 428h1v1h-1zM499 424h1v1h-1zM499 420h1v1h-1zM499 416h1v1h-1zM499 412h1v1h-1zM499 407h1v1h-1zM499 403h1v1h-1zM499 399h1v1h-1zM499 395h1v1h-1zM499 391h1v1h-1zM499 387h1v1h-1zM499 383h1v1h-1zM499 379h1v1h-1zM499 375h1v1h-1zM499 370h1v1h-1zM499 366h1v1h-1zM499 362h1v1h-1zM499 358h1v1h-1zM499 354h1v1h-1zM499 350h1v1h-1zM499 346h1v1h-1zM499 342h1v1h-1zM499 338h1v1h-1zM499 333h1v1h-1zM499 329h1v1h-1zM499 325h1v1h-1zM499 321h1v1h-1zM499 317h1v1h-1zM499 313h1v1h-1zM499 309h1v1h-1zM499 305h1v1h-1zM499 301h1v1h-1zM499 296h1v1h-1zM499 292h1v1h-1zM499 288h1v1h-1zM499 284h1v1h-1zM499 280h1v1h-1zM499 276h1v1h-1zM499 272h1v1h-1zM499 268h1v1h-1zM499 264h1v1h-1zM499 259h1v1h-1zM499 255h1v1h-1zM499 251h1v1h-1zM499 247h1v1h-1zM499 243h1v1h-1zM499 239h1v1h-1zM499 235h1v1h-1zM499 227h1v1h-1zM499 222h1v1h-1zM499 218h1v1h-1zM499 214h1v1h-1zM499 210h1v1h-1zM499 206h1v1h-1zM499 198h1v1h-1zM499 194h1v1h-1zM499 190h1v1h-1zM499 185h1v1h-1zM499 181h1v1h-1zM499 169h1v1h-1zM499 161h1v1h-1zM499 157h1v1h-1zM499 148h1v1h-1zM499 144h1v1h-1zM499 136h1v1h-1zM499 132h1v1h-1zM499 128h1v1h-1zM499 124h1v1h-1zM499 120h1v1h-1zM499 116h1v1h-1zM499 111h1v1h-1zM499 107h1v1h-1zM499 103h1v1h-1zM499 95h1v1h-1zM499 91h1v1h-1zM499 87h1v1h-1zM499 83h1v1h-1zM499 79h1v1h-1zM499 74h1v1h-1zM499 62h1v1h-1zM499 58h1v1h-1zM499 54h1v1h-1zM499 46h1v1h-1zM499 42h1v1h-1zM521 428h1v1h-1zM521 424h1v1h-1zM521 420h1v1h-1zM521 416h1v1h-1zM521 412h1v1h-1zM521 407h1v1h-1zM521 403h1v1h-1zM521 399h1v1h-1zM521 395h1v1h-1zM521 391h1v1h-1zM521 387h1v1h-1zM521 383h1v1h-1zM521 379h1v1h-1zM521 375h1v1h-1zM521 370h1v1h-1zM521 366h1v1h-1zM521 362h1v1h-1zM521 358h1v1h-1zM521 354h1v1h-1zM521 350h1v1h-1zM521 346h1v1h-1zM521 342h1v1h-1zM521 338h1v1h-1zM521 333h1v1h-1zM521 329h1v1h-1zM521 325h1v1h-1zM521 321h1v1h-1zM521 317h1v1h-1zM521 313h1v1h-1zM521 309h1v1h-1zM521 305h1v1h-1zM521 301h1v1h-1zM521 296h1v1h-1zM521 292h1v1h-1zM521 288h1v1h-1zM521 280h1v1h-1zM521 276h1v1h-1zM521 272h1v1h-1zM521 268h1v1h-1zM521 264h1v1h-1zM521 259h1v1h-1zM521 255h1v1h-1zM521 251h1v1h-1zM521 247h1v1h-1zM521 243h1v1h-1zM521 239h1v1h-1zM521 235h1v1h-1zM521 231h1v1h-1zM521 227h1v1h-1zM521 222h1v1h-1zM521 218h1v1h-1zM521 214h1v1h-1zM521 210h1v1h-1zM521 206h1v1h-1zM521 198h1v1h-1zM521 177h1v1h-1zM521 173h1v1h-1zM521 165h1v1h-1zM521 161h1v1h-1zM521 157h1v1h-1zM521 153h1v1h-1zM521 148h1v1h-1zM521 140h1v1h-1zM521 132h1v1h-1zM521 128h1v1h-1zM521 120h1v1h-1zM521 116h1v1h-1zM521 111h1v1h-1zM521 103h1v1h-1zM521 99h1v1h-1zM521 91h1v1h-1zM521 87h1v1h-1zM521 83h1v1h-1zM521 79h1v1h-1zM521 74h1v1h-1zM521 66h1v1h-1zM521 62h1v1h-1zM521 50h1v1h-1zM521 46h1v1h-1zM521 42h1v1h-1zM542 428h1v1h-1zM542 424h1v1h-1zM542 420h1v1h-1zM542 416h1v1h-1zM542 412h1v1h-1zM542 407h1v1h-1zM542 403h1v1h-1zM542 399h1v1h-1zM542 395h1v1h-1zM542 391h1v1h-1zM542 387h1v1h-1zM542 383h1v1h-1zM542 379h1v1h-1zM542 375h1v1h-1zM542 370h1v1h-1zM542 366h1v1h-1zM542 362h1v1h-1zM542 358h1v1h-1zM542 354h1v1h-1zM542 350h1v1h-1zM542 346h1v1h-1zM542 342h1v1h-1zM542 338h1v1h-1zM542 333h1v1h-1zM542 329h1v1h-1zM542 325h1v1h-1zM542 321h1v1h-1zM542 317h1v1h-1zM542 313h1v1h-1zM542 309h1v1h-1zM542 305h1v1h-1zM542 301h1v1h-1zM542 296h1v1h-1zM542 292h1v1h-1zM542 288h1v1h-1zM542 284h1v1h-1zM542 280h1v1h-1zM542 276h1v1h-1zM542 272h1v1h-1zM542 268h1v1h-1zM542 264h1v1h-1zM542 255h1v1h-1zM542 251h1v1h-1zM542 243h1v1h-1zM542 239h1v1h-1zM542 235h1v1h-1zM542 231h1v1h-1zM542 227h1v1h-1zM542 222h1v1h-1zM542 218h1v1h-1zM542 214h1v1h-1zM542 206h1v1h-1zM542 198h1v1h-1zM542 194h1v1h-1zM542 190h1v1h-1zM542 185h1v1h-1zM542 181h1v1h-1zM542 173h1v1h-1zM542 169h1v1h-1zM542 165h1v1h-1zM542 161h1v1h-1zM542 153h1v1h-1zM542 148h1v1h-1zM542 144h1v1h-1zM542 140h1v1h-1zM542 136h1v1h-1zM542 132h1v1h-1zM542 128h1v1h-1zM542 120h1v1h-1zM542 116h1v1h-1zM542 111h1v1h-1zM542 99h1v1h-1zM542 87h1v1h-1zM542 79h1v1h-1zM542 74h1v1h-1zM542 70h1v1h-1zM542 66h1v1h-1zM542 62h1v1h-1zM542 54h1v1h-1zM542 50h1v1h-1zM542 46h1v1h-1zM542 42h1v1h-1zM564 436h1v1h-1zM564 424h1v1h-1zM564 420h1v1h-1zM564 416h1v1h-1zM564 412h1v1h-1zM564 407h1v1h-1zM564 403h1v1h-1zM564 399h1v1h-1zM564 395h1v1h-1zM564 391h1v1h-1zM564 387h1v1h-1zM564 383h1v1h-1zM564 379h1v1h-1zM564 375h1v1h-1zM564 370h1v1h-1zM564 366h1v1h-1zM564 362h1v1h-1zM564 358h1v1h-1zM564 354h1v1h-1zM564 350h1v1h-1zM564 346h1v1h-1zM564 342h1v1h-1zM564 338h1v1h-1zM564 333h1v1h-1zM564 329h1v1h-1zM564 325h1v1h-1zM564 321h1v1h-1zM564 317h1v1h-1zM564 309h1v1h-1zM564 305h1v1h-1zM564 301h1v1h-1zM564 296h1v1h-1zM564 292h1v1h-1zM564 288h1v1h-1zM564 284h1v1h-1zM564 280h1v1h-1zM564 276h1v1h-1zM564 272h1v1h-1zM564 268h1v1h-1zM564 264h1v1h-1zM564 259h1v1h-1zM564 251h1v1h-1zM564 247h1v1h-1zM564 239h1v1h-1zM564 235h1v1h-1zM564 227h1v1h-1zM564 222h1v1h-1zM564 218h1v1h-1zM564 210h1v1h-1zM564 206h1v1h-1zM564 202h1v1h-1zM564 198h1v1h-1zM564 194h1v1h-1zM564 190h1v1h-1zM564 181h1v1h-1zM564 177h1v1h-1zM564 169h1v1h-1zM564 165h1v1h-1zM564 161h1v1h-1zM564 153h1v1h-1zM564 148h1v1h-1zM564 144h1v1h-1zM564 140h1v1h-1zM564 136h1v1h-1zM564 128h1v1h-1zM564 124h1v1h-1zM564 116h1v1h-1zM564 111h1v1h-1zM564 99h1v1h-1zM564 95h1v1h-1zM564 91h1v1h-1zM564 87h1v1h-1zM564 83h1v1h-1zM564 79h1v1h-1zM564 74h1v1h-1zM564 70h1v1h-1zM564 66h1v1h-1zM564 62h1v1h-1zM564 58h1v1h-1zM564 54h1v1h-1zM564 50h1v1h-1zM564 46h1v1h-1zM564 42h1v1h-1zM586 428h1v1h-1zM586 424h1v1h-1zM586 416h1v1h-1zM586 412h1v1h-1zM586 407h1v1h-1zM586 403h1v1h-1zM586 399h1v1h-1zM586 395h1v1h-1zM586 391h1v1h-1zM586 383h1v1h-1zM586 379h1v1h-1zM586 375h1v1h-1zM586 370h1v1h-1zM586 366h1v1h-1zM586 362h1v1h-1zM586 358h1v1h-1zM586 354h1v1h-1zM586 350h1v1h-1zM586 346h1v1h-1zM586 342h1v1h-1zM586 338h1v1h-1zM586 333h1v1h-1zM586 329h1v1h-1zM586 325h1v1h-1zM586 321h1v1h-1zM586 317h1v1h-1zM586 313h1v1h-1zM586 309h1v1h-1zM586 305h1v1h-1zM586 301h1v1h-1zM586 296h1v1h-1zM586 292h1v1h-1zM586 288h1v1h-1zM586 284h1v1h-1zM586 280h1v1h-1zM586 276h1v1h-1zM586 272h1v1h-1zM586 268h1v1h-1zM586 264h1v1h-1zM586 259h1v1h-1zM586 255h1v1h-1zM586 251h1v1h-1zM586 247h1v1h-1zM586 239h1v1h-1zM586 235h1v1h-1zM586 231h1v1h-1zM586 227h1v1h-1zM586 222h1v1h-1zM586 218h1v1h-1zM586 214h1v1h-1zM586 210h1v1h-1zM586 206h1v1h-1zM586 202h1v1h-1zM586 198h1v1h-1zM586 190h1v1h-1zM586 185h1v1h-1zM586 173h1v1h-1zM586 165h1v1h-1zM586 161h1v1h-1zM586 157h1v1h-1zM586 153h1v1h-1zM586 144h1v1h-1zM586 140h1v1h-1zM586 136h1v1h-1zM586 128h1v1h-1zM586 120h1v1h-1zM586 116h1v1h-1zM586 111h1v1h-1zM586 107h1v1h-1zM586 99h1v1h-1zM586 91h1v1h-1zM586 87h1v1h-1zM586 83h1v1h-1zM586 79h1v1h-1zM586 74h1v1h-1zM586 70h1v1h-1zM586 66h1v1h-1zM586 62h1v1h-1zM586 54h1v1h-1zM586 50h1v1h-1zM586 46h1v1h-1zM586 42h1v1h-1z" fill="#000" shape-rendering="crispEdges"/>
<g fill="none" stroke-width="1" shape-rendering="crispEdges">
<polyline points="87.5,101.0 108.5,90.5 130.5,86.5 152.5,87.5 173.5,93.5 195.5,97.5 217.5,97.5 238.5,98.5 260.5,100.5 282.5,104.5 304.5,107.5 325.5,108.5 347.5,114.5 369.5,130.5 390.5,153.5 412.5,172.5 434.5,183.5 456.5,184.5 477.5,179.5 499.5,175.5 521.5,170.5 542.5,164.5 564.5,144.5 586.5,119.5" stroke="#00ff00"/>
<polyline points="87.5,226.4 108.5,210.5 130.5,205.5 152.5,209.5 173.5,216.5 195.5,221.5 217.5,224.5 238.5,226.5 260.5,230.5 282.5,234.5 304.5,238.5 325.5,241.5 347.5,249.5 369.5,265.5 390.5,286.5 412.5,297.5 434.5,304.5 456.5,303.5 477.5,299.5 499.5,297.5 521.5,293.5 542.5,285.5 564.5,271.5 586.5,248.5" stroke="#ff0000"/>
<polyline points="87.5,351.0 108.5,330.5 130.5,324.5 152.5,330.5 173.5,339.5 195.5,345.5 217.5,350.5 238.5,354.5 260.5,359.5 282.5,364.5 304.5,368.5 325.5,374.5 347.5,384.5 369.5,402.5 390.5,418.5 412.5,423.5 434.5,424.5 456.5,422.5 477.5,420.5 499.5,418.5 521.5,415.5 542.5,407.5 564.5,397.5 586.5,376.5" stroke="#00ff00"/>
</g>
<g fill="none" stroke="#000" stroke-width="1" shape-rendering="crispEdges">
<rect x="87.5" y="37.5" width="521" height="412"/>
<path d="M88 449.5H93M602 449.5H608M88 407.5H93M602 407.5H608M88 366.5H93M602 366.5H608M88 325.5H93M602 325.5H608M88 284.5H93M602 284.5H608M88 243.5H93M602 243.5H608M88 202.5H93M602 202.5H608M88 161.5H93M602 161.5H608M88 120.5H93M602 120.5H608M88 79.5H93M602 79.5H608M88 38.5H93M602 38.5H608M195.5 443V449M195.5 38V44M304.5 443V449M304.5 38V44M412.5 443V449M412.5 38V44M521.5 443V449M521.5 38V44"/>
</g>
<filter id="bin" x="0" y="0" width="672" height="504" filterUnits="userSpaceOnUse" color-interpolation-filters="sRGB"><feColorMatrix type="matrix" values="0 0 0 0 0  0 0 0 0 0  0 0 0 0 0  -0.333 -0.333 -0.334 1 0"/><feComponentTransfer><feFuncA type="discrete" tableValues="0 0 1 1 1"/></feComponentTransfer></filter>
<filter id="bin2" x="0" y="0" width="672" height="504" filterUnits="userSpaceOnUse" color-interpolation-filters="sRGB"><feColorMatrix type="matrix" values="0 0 0 0 0  0 0 0 0 0  0 0 0 0 0  -0.333 -0.333 -0.334 1 0"/><feComponentTransfer><feFuncA type="discrete" tableValues="0 0 0 0 0 0 1 1 1 1"/></feComponentTransfer></filter>
<g filter="url(#bin)" stroke="#fff" stroke-width="0.2">
<text transform="translate(347.5,27) scale(0.98,1)" text-anchor="middle">Daily Cycle for Humidity 200<tspan class="n">1</tspan></text>
<text x="82" y="454.5" text-anchor="end">0</text><text x="82" y="412.5" text-anchor="end"><tspan class="n">1</tspan>0</text><text x="82" y="371.5" text-anchor="end">20</text><text x="82" y="330.5" text-anchor="end">30</text><text x="82" y="289.5" text-anchor="end">40</text><text x="82" y="248.5" text-anchor="end">50</text><text x="82" y="207.5" text-anchor="end">60</text><text x="82" y="166.5" text-anchor="end">70</text><text x="82" y="125.5" text-anchor="end">80</text><text x="82" y="84.5" text-anchor="end">90</text><text x="82" y="43.5" text-anchor="end"><tspan class="n">1</tspan>00</text>
<text x="88" y="468" text-anchor="middle">0</text><text x="195" y="468" text-anchor="middle">5</text><text x="303.7" y="468" text-anchor="middle"><tspan class="n">1</tspan>0</text><text x="412" y="468" text-anchor="middle"><tspan class="n">1</tspan>5</text><text x="521" y="468" text-anchor="middle">20</text>
<text transform="translate(345.3,489) scale(0.986,1)" text-anchor="middle">Time (UT)</text>
</g>
<g filter="url(#bin2)">
<text transform="translate(48,241) rotate(-90) scale(0.993,1)" text-anchor="middle">Relative humidity (%), Average +/- <tspan class="n">1</tspan> sigma</text>
</g>
</svg>
</body></html>
